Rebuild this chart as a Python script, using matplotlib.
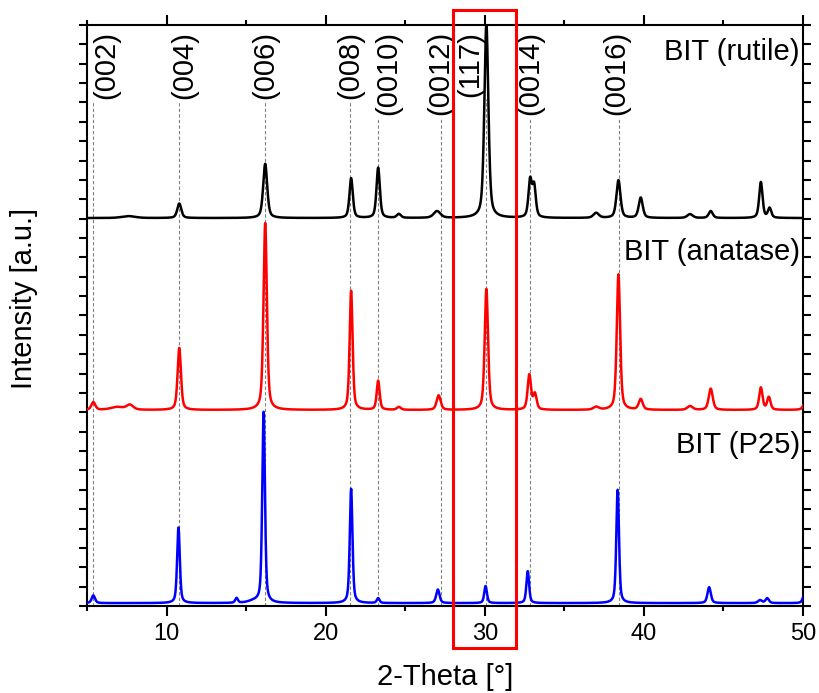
import numpy as np
import matplotlib
matplotlib.use("Agg")
import matplotlib.pyplot as plt
from matplotlib.patches import Rectangle
from matplotlib.ticker import MultipleLocator

plt.rcParams['font.family'] = ['Liberation Sans', 'DejaVu Sans']

# 2-theta grid
two_theta = np.linspace(5, 50, 4501)

# peak lists: position [deg], height [panel units], FWHM [deg]
rutile_pos = [7.6, 10.8, 16.2, 21.6, 23.3, 24.6, 27.0, 30.1, 32.85, 33.1, 37.0, 38.4, 39.8, 42.9, 44.2, 47.35, 47.9]
rutile_height = [0.010, 0.075, 0.28, 0.205, 0.26, 0.02, 0.035, 1.0, 0.19, 0.16, 0.026, 0.195, 0.105, 0.02, 0.036, 0.185, 0.05]
rutile_width = [1.0, 0.3, 0.3, 0.25, 0.25, 0.3, 0.5, 0.3, 0.25, 0.25, 0.4, 0.3, 0.3, 0.4, 0.3, 0.25, 0.25]

anatase_pos = [5.4, 6.9, 7.7, 10.8, 16.2, 21.6, 23.3, 24.6, 27.1, 30.1, 32.8, 33.15, 37.0, 38.4, 39.8, 42.9, 44.2, 47.35, 47.85, 50.2]
anatase_height = [0.04, 0.015, 0.025, 0.32, 0.965, 0.615, 0.15, 0.015, 0.075, 0.625, 0.18, 0.08, 0.015, 0.70, 0.055, 0.02, 0.11, 0.115, 0.065, 0.07]
anatase_width = [0.3, 1.0, 0.5, 0.25, 0.25, 0.22, 0.22, 0.3, 0.3, 0.25, 0.25, 0.25, 0.4, 0.25, 0.3, 0.4, 0.3, 0.25, 0.25, 0.3]

p25_pos = [5.4, 10.75, 14.4, 15.5, 16.1, 21.6, 23.3, 27.05, 30.05, 32.7, 38.35, 44.1, 47.3, 47.75, 50.1]
p25_height = [0.04, 0.39, 0.025, 0.01, 0.985, 0.59, 0.025, 0.07, 0.088, 0.165, 0.585, 0.082, 0.015, 0.025, 0.05]
p25_width = [0.25, 0.2, 0.2, 0.8, 0.2, 0.2, 0.2, 0.25, 0.2, 0.2, 0.2, 0.25, 0.3, 0.25, 0.25]

# reflections marked with dashed lines
hkl_labels = ['(002)', '(004)', '(006)', '(008)', '(0010)', '(0012)', '(117)', '(0014)', '(0016)']
hkl_pos = [5.4, 10.8, 16.2, 21.53, 23.27, 27.23, 30.06, 32.84, 38.44]

sample_names = ['BIT (rutile)', 'BIT (anatase)', 'BIT (P25)']


def profile(x, pos, height, width):
    # pseudo-Voigt peaks on flat baseline
    y = np.zeros_like(x)
    for p, h, w in zip(pos, height, width):
        g = np.exp(-4 * np.log(2) * (x - p) ** 2 / w ** 2)
        l = 1.0 / (1.0 + 4 * (x - p) ** 2 / w ** 2)
        y += h * (0.5 * g + 0.5 * l)
    return y


fig = plt.figure(figsize=(8.19, 6.93), dpi=100)
ax = fig.add_axes([0.1062, 0.1255, 0.8743, 0.8385])

curves = [
    (rutile_pos, rutile_height, rutile_width, 2.003, 'black'),
    (anatase_pos, anatase_height, anatase_width, 1.012, '#ff0000'),
    (p25_pos, p25_height, p25_width, 0.015, '#0000ff'),
]
for pos, h, w, off, col in curves:
    ax.plot(two_theta, profile(two_theta, pos, h, w) + off, color=col, lw=1.8, zorder=3)

ax.set_xlim(5, 50)
ax.set_ylim(0, 3)

# sample names
for name, ypos in zip(sample_names, [2.86, 1.83, 0.83]):
    ax.text(49.8, ypos, name, ha='right', va='center', fontsize=21, zorder=5)

# hkl labels and dashed guide lines
nudge = {'(002)': 0.8, '(004)': 0.3, '(0010)': 0.65, '(117)': -1.0, '(0016)': -0.2}
hkl_texts = []
for lab, x in zip(hkl_labels, hkl_pos):
    t = ax.text(x + nudge.get(lab, 0.0), 0.99, lab, rotation=90, ha='center', va='top',
                fontsize=21, transform=ax.get_xaxis_transform(), zorder=5)
    hkl_texts.append(t)

fig.canvas.draw()
renderer = fig.canvas.get_renderer()
for t, x in zip(hkl_texts, hkl_pos):
    bb = t.get_window_extent(renderer)
    top = ax.transAxes.inverted().transform((0, bb.y0))[1] - 0.004
    ax.axvline(x, ymin=0, ymax=top, color='#808080', lw=0.8, ls=(0, (3, 2)), zorder=1)

# highlight box around (117)
box = Rectangle((28.0, -0.072), 3.96, 1.098, transform=ax.get_xaxis_transform(),
                fill=False, edgecolor='#ff0000', lw=2.2, clip_on=False, zorder=6)
ax.add_patch(box)

ax.xaxis.set_major_locator(MultipleLocator(10))
ax.xaxis.set_minor_locator(MultipleLocator(5))
ax.yaxis.set_major_locator(MultipleLocator(1))
ax.yaxis.set_minor_locator(MultipleLocator(0.1))
ax.tick_params(axis='x', which='major', direction='out', length=7, width=1.5,
               top=True, labelsize=17, pad=5)
ax.tick_params(axis='x', which='minor', direction='out', length=3.5, width=1.5, top=True)
ax.tick_params(axis='y', which='both', direction='out', length=6, width=1.5,
               right=True, labelleft=False)
for sp in ax.spines.values():
    sp.set_linewidth(1.5)

ax.set_xlabel('2-Theta [°]', fontsize=21)
ax.set_ylabel('Intensity [a.u.]', fontsize=21)
ax.xaxis.set_label_coords(0.5, -0.098)
ax.yaxis.set_label_coords(-0.068, 0.53)

fig.savefig('out.png', dpi=100)
